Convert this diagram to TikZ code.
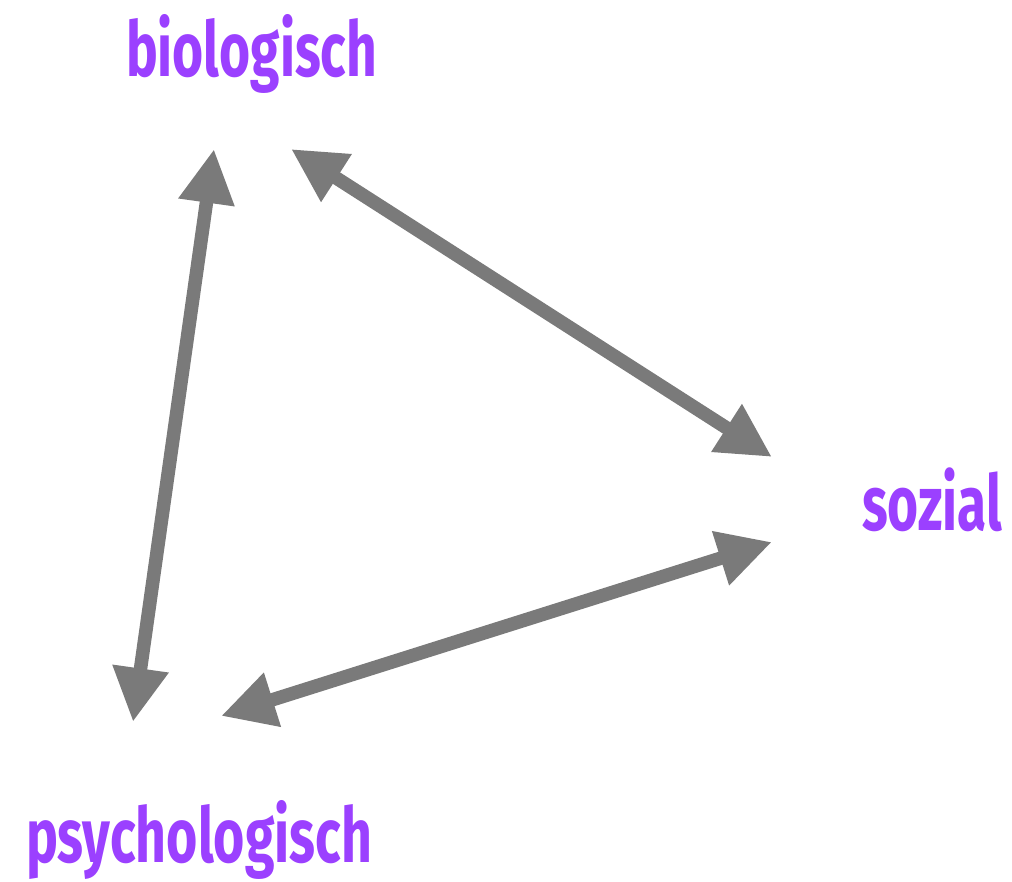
\documentclass[tikz,border=0pt]{standalone}
\usepackage{fontspec}
\setmainfont{Fira Sans}
\usepackage{graphicx}
\usetikzlibrary{arrows.meta}
\definecolor{labelpurple}{RGB}{155,64,255}
\definecolor{arrowgray}{RGB}{122,122,122}
\tikzset{
  label/.style={inner sep=0pt, outer sep=0pt, anchor=north west, text=labelpurple, font=\bfseries},
  link/.style={draw=arrowgray, line width=13.5pt, {Triangle[length=54pt,width=53pt]}-{Triangle[length=54pt,width=53pt]}}
}
\begin{document}
\begin{tikzpicture}[x=1pt,y=-1pt]
\useasboundingbox (0,0) rectangle (1012,881);
\node[label] (bio) at (126,14) {\resizebox*{251pt}{79pt}{biologisch}};
\node[label] (soz) at (862,468) {\resizebox*{140pt}{64pt}{sozial}};
\node[label] (psy) at (26,800) {\resizebox*{346pt}{79pt}{psychologisch}};
\coordinate (b1) at (214,149);
\coordinate (p1) at (133,722);
\coordinate (b2) at (291,149);
\coordinate (s1) at (772,457);
\coordinate (s2) at (772,542);
\coordinate (p2) at (221,716);
\draw[link] (b1) -- (p1);
\draw[link] (b2) -- (s1);
\draw[link] (s2) -- (p2);
\end{tikzpicture}
\end{document}
